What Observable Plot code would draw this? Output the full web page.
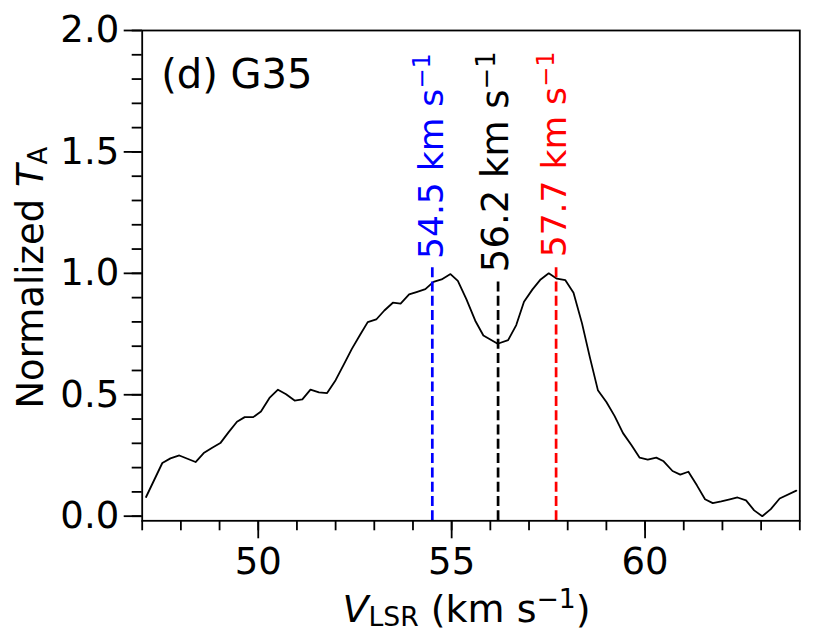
<!DOCTYPE html>
<html>
<head>
<meta charset="utf-8">
<script src="https://cdn.jsdelivr.net/npm/d3@7"></script>
<script src="https://cdn.jsdelivr.net/npm/@observablehq/plot@0.6"></script>
<style>
  html, body { margin: 0; padding: 0; background: white; }
  #chart { width: 830px; height: 643px; }
</style>
</head>
<body>
<div id="chart"></div>
<script>
// Spectrum (velocity in km/s, normalized antenna temperature)
const velocity = [47.10, 47.52, 47.73, 47.96, 48.38, 48.59, 48.81, 49.02, 49.23, 49.45,
  49.65, 49.87, 50.07, 50.29, 50.51, 50.72, 50.94, 51.14, 51.35, 51.57,
  51.78, 52.00, 52.21, 52.42, 52.63, 52.83, 53.05, 53.26, 53.48, 53.68,
  53.90, 54.11, 54.32, 54.53, 54.74, 54.97, 55.16, 55.38, 55.61, 55.82,
  56.19, 56.46, 56.67, 56.87, 57.09, 57.30, 57.51, 57.72, 57.94, 58.15,
  58.37, 58.57, 58.78, 59.00, 59.21, 59.43, 59.65, 59.86, 60.07, 60.29,
  60.48, 60.71, 60.91, 61.12, 61.34, 61.55, 61.75, 61.97, 62.19, 62.39,
  62.61, 62.82, 63.03, 63.25, 63.48, 63.91];
const intensity = [0.079, 0.219, 0.238, 0.250, 0.223, 0.260, 0.282, 0.301, 0.345, 0.389,
  0.408, 0.408, 0.431, 0.487, 0.521, 0.502, 0.476, 0.481, 0.521, 0.510,
  0.507, 0.560, 0.624, 0.689, 0.746, 0.799, 0.810, 0.847, 0.879, 0.875,
  0.913, 0.924, 0.935, 0.965, 0.975, 0.997, 0.969, 0.894, 0.805, 0.744,
  0.710, 0.725, 0.787, 0.883, 0.934, 0.975, 1.000, 0.978, 0.972, 0.920,
  0.794, 0.656, 0.519, 0.470, 0.413, 0.342, 0.292, 0.241, 0.233, 0.241,
  0.226, 0.186, 0.171, 0.183, 0.127, 0.070, 0.054, 0.061, 0.069, 0.077,
  0.065, 0.024, 0.000, 0.029, 0.073, 0.105];

// Velocity components
const compVelocity = [54.5, 56.2, 57.7];
const compColor = ["#0000ff", "#000000", "#ff0000"];
const compLineTop = [1.032, 0.971, 1.032];
const compLabelY = [1.059, 1.005, 1.066];
const compLabelSize = [34.5, 37, 34.5];

// Ticks
const xMajorTicks = [50, 55, 60];
const xMinorTicks = [47, 48, 49, 50, 51, 52, 53, 54, 55, 56, 57, 58, 59, 60, 61, 62, 63, 64];
const yMajorTicks = [0.0, 0.5, 1.0, 1.5, 2.0];
const yMinorTicks = [0.0, 0.1, 0.2, 0.3, 0.4, 0.5, 0.6, 0.7, 0.8, 0.9, 1.0,
  1.1, 1.2, 1.3, 1.4, 1.5, 1.6, 1.7, 1.8, 1.9, 2.0];

const panelLabel = "(d) G35";
const xLabelPlain = "V_LSR (km s-1)";
const yLabelPlain = "Normalized T_A";

const spectrum = velocity.map((v, i) => ({v, t: intensity[i]}));
const comps = compVelocity.map((v, i) => ({v, color: compColor[i], top: compLineTop[i], ly: compLabelY[i], fs: compLabelSize[i]}));

const FS = 37;
const TW = 1.8;

const plot = Plot.plot({
  width: 830,
  height: 643,
  marginLeft: 141.7,
  marginRight: 30.7,
  marginTop: 30,
  marginBottom: 122.7,
  x: {domain: [47, 64]},
  y: {domain: [-0.019, 2.0]},
  color: {type: "identity"},
  style: {fontFamily: "DejaVu Sans", fontSize: FS + "px", background: "white", color: "black"},
  marks: [
    Plot.axisX(xMinorTicks, {tickSize: 10, tickFormat: () => "", label: null, strokeWidth: TW}),
    Plot.axisX(xMajorTicks, {tickSize: 18, tickPadding: 9, tickFormat: d3.format("d"), label: null, strokeWidth: TW, fontSize: FS}),
    Plot.axisY(yMinorTicks, {tickSize: 10, tickFormat: () => "", label: null, strokeWidth: TW}),
    Plot.axisY(yMajorTicks, {tickSize: 18, tickPadding: 5, tickFormat: d3.format(".1f"), label: null, strokeWidth: TW, fontSize: FS}),
    Plot.line(spectrum, {x: "v", y: "t", stroke: "black", strokeWidth: 1.8}),
    Plot.ruleX(comps, {x: "v", y1: -0.019, y2: "top", stroke: "color", strokeWidth: 2.7, strokeDasharray: "10,4.3"}),
    Plot.text(comps, {x: "v", y: "ly", text: d => `${d.v.toFixed(1)} km s`, fill: "color", rotate: -90,
      textAnchor: "start", lineAnchor: "bottom", dx: 10.3, fontSize: "fs"}),
    Plot.text([panelLabel], {text: d => d, frameAnchor: "top-left", textAnchor: "start", lineAnchor: "bottom",
      dx: 19, dy: 57, fontSize: 40, fill: "black"}),
    Plot.text([xLabelPlain], {text: d => d, frameAnchor: "bottom", textAnchor: "middle", lineAnchor: "bottom",
      dx: -4.5, dy: 101, fontSize: 38, fill: "black"}),
    Plot.text([yLabelPlain], {text: d => d, frameAnchor: "left", textAnchor: "middle", lineAnchor: "bottom",
      rotate: -90, dx: -99.7, dy: 2, fontSize: FS, fill: "black"}),
    Plot.frame({stroke: "black", strokeWidth: TW})
  ]
});

document.getElementById("chart").appendChild(plot);

const svg = d3.select(plot);
const SUB = 4.5;
const allText = svg.selectAll("text");

// superscripts on the component labels (raised by 0.37 em)
allText.filter(function () { return / km s$/.test(this.textContent); }).each(function () {
  const fs = parseFloat(getComputedStyle(this).fontSize) || FS;
  d3.select(this).append("tspan").attr("dy", -0.37 * fs).attr("font-size", "70%").text("\u22121");
});

// x axis label with italic V, subscript LSR and superscript -1
allText.filter(function () { return this.textContent === xLabelPlain; }).each(function () {
  const t = d3.select(this);
  const sup = -0.37 * 38;
  t.text(null);
  t.append("tspan").attr("font-style", "italic").text("V");
  t.append("tspan").attr("dy", SUB).attr("font-size", "70%").text("LSR");
  t.append("tspan").attr("dy", -SUB).text(" (km s");
  t.append("tspan").attr("dy", sup).attr("font-size", "70%").text("\u22121");
  t.append("tspan").attr("dy", -sup).text(")");
});

// y axis label with italic T and subscript A
allText.filter(function () { return this.textContent === yLabelPlain; }).each(function () {
  const t = d3.select(this);
  t.text(null);
  t.append("tspan").text("Normalized ");
  t.append("tspan").attr("font-style", "italic").text("T");
  t.append("tspan").attr("dy", SUB).attr("font-size", "70%").text("A");
});
</script>
</body>
</html>
